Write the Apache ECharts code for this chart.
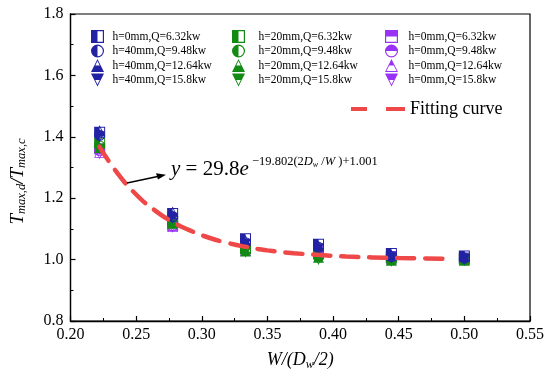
<!DOCTYPE html>
<html><head><meta charset="utf-8">
<script src="https://cdn.jsdelivr.net/npm/echarts@6/dist/echarts.min.js"></script>
<style>html,body{margin:0;padding:0;background:#fff}#c{width:550px;height:380px}</style>
</head><body><div id="c"></div>
<script>
// ---- data ----
const xVals = [0.2222, 0.2778, 0.3333, 0.3889, 0.4444, 0.5];
const xTicks = [0.20, 0.25, 0.30, 0.35, 0.40, 0.45, 0.50, 0.55];
const yTicks = [0.8, 1.0, 1.2, 1.4, 1.6, 1.8];
const namesBlue = ['h=0mm,Q=6.32kw', 'h=40mm,Q=9.48kw', 'h=40mm,Q=12.64kw', 'h=40mm,Q=15.8kw'];
const namesGreen = ['h=20mm,Q=6.32kw', 'h=20mm,Q=9.48kw', 'h=20mm,Q=12.64kw', 'h=20mm,Q=15.8kw'];
const namesPurple = ['h=0mm,Q=6.32kw\u200b', 'h=0mm,Q=9.48kw\u200b', 'h=0mm,Q=12.64kw\u200b', 'h=0mm,Q=15.8kw\u200b'];
const blue1 = [1.415, 1.150, 1.068, 1.050, 1.020, 1.012];
const blue2 = [1.405, 1.140, 1.055, 1.040, 1.010, 1.005];
const blue3 = [1.420, 1.155, 1.062, 1.045, 1.015, 1.010];
const blue4 = [1.400, 1.135, 1.050, 1.035, 1.005, 1.000];
const green1 = [1.380, 1.125, 1.035, 1.020, 1.005, 1.003];
const green2 = [1.370, 1.120, 1.030, 1.010, 1.000, 1.000];
const green3 = [1.365, 1.118, 1.028, 1.008, 0.998, 0.998];
const green4 = [1.360, 1.115, 1.025, 1.000, 0.995, 0.996];
const purple1 = [1.360, 1.112, 1.035, 1.025, 1.010, 1.005];
const purple2 = [1.355, 1.110, 1.032, 1.020, 1.005, 1.002];
const purple3 = [1.350, 1.108, 1.030, 1.018, 1.002, 1.000];
const purple4 = [1.345, 1.105, 1.028, 1.015, 1.000, 0.998];
// fitting curve
const fitX = [0.222, 0.235, 0.250, 0.265, 0.278, 0.290, 0.305, 0.320, 0.333, 0.350, 0.370, 0.390, 0.410, 0.430, 0.450, 0.470, 0.485];
const fitY = [1.368, 1.286, 1.212, 1.158, 1.122, 1.097, 1.072, 1.054, 1.042, 1.030, 1.021, 1.015, 1.010, 1.007, 1.005, 1.004, 1.003];

// ---- half-filled marker shapes ----
const SQ_LEFT = 'path://M0 0L10 0L10 10L0 10Z M5 0.9L5 9.1L9.1 9.1L9.1 0.9Z';
const SQ_TOP = 'path://M0 0L10 0L10 10L0 10Z M0.9 5L0.9 9.1L9.1 9.1L9.1 5Z';
const CI_LEFT = 'path://M5 0A5 5 0 1 1 5 10A5 5 0 1 1 5 0Z M5 0.9L5 9.1A4.1 4.1 0 0 0 5 0.9Z';
const CI_TOP = 'path://M5 0A5 5 0 1 1 5 10A5 5 0 1 1 5 0Z M9.1 5L0.9 5A4.1 4.1 0 0 0 9.1 5Z';
const TU_BOT = 'path://M0 10L5 0L10 10Z M5 1.57L3.28 5L6.72 5Z';
const TU_TOP = 'path://M0 10L5 0L10 10Z M3.28 5L1.13 9.3L8.87 9.3L6.72 5Z';
const TD_TOP = 'path://M0 0L10 0L5 10Z M3.28 5L5 8.43L6.72 5Z';
const DASH_ICON = 'path://M0 0L16 0L16 4L0 4Z M35 0L54 0L54 4L35 4Z';

const BLUE = '#2222a5', GREEN = '#138a13', PURPLE = '#9a32f5', RED = '#ef4848';

function sc(name, vals, color, symbol) {
  return {
    type: 'scatter', name: name, symbol: symbol, symbolSize: 11,
    itemStyle: { color: color, opacity: 1 },
    data: xVals.map((x, i) => [x, vals[i]])
  };
}

const series = [
  sc(namesPurple[0], purple1, PURPLE, SQ_TOP),
  sc(namesPurple[1], purple2, PURPLE, CI_TOP),
  sc(namesPurple[2], purple3, PURPLE, TU_TOP),
  sc(namesPurple[3], purple4, PURPLE, TD_TOP),
  sc(namesGreen[0], green1, GREEN, SQ_LEFT),
  sc(namesGreen[1], green2, GREEN, CI_LEFT),
  sc(namesGreen[2], green3, GREEN, TU_BOT),
  sc(namesGreen[3], green4, GREEN, TD_TOP),
  sc(namesBlue[0], blue1, BLUE, SQ_LEFT),
  sc(namesBlue[1], blue2, BLUE, CI_LEFT),
  sc(namesBlue[2], blue3, BLUE, TU_BOT),
  sc(namesBlue[3], blue4, BLUE, TD_TOP),
  {
    type: 'line', name: 'Fitting curve', smooth: true, symbol: 'none', showSymbol: false, z: 5,
    lineStyle: { color: RED, width: 4.5, type: [17, 11], cap: 'round' },
    itemStyle: { color: RED },
    data: fitX.map((x, i) => [x, fitY[i]])
  }
];

const FONT = 'Liberation Serif';
function lg(names, left, top, textPad) {
  return {
    data: names, orient: 'vertical', left: left, top: top,
    itemWidth: 14, itemHeight: 13, itemGap: 1.5, padding: 0,
    textStyle: { fontFamily: FONT, fontSize: 11.5, color: '#000', padding: [0, 0, 0, textPad] },
    formatter: n => n.replace('\u200b', ''),
    selectedMode: false
  };
}

const chart = echarts.init(document.getElementById('c'), null, { renderer: 'canvas' });
chart.setOption({
  animation: false,
  backgroundColor: '#fff',
  grid: { left: 60, right: 20, top: 14, bottom: 59, show: true, borderColor: '#000', borderWidth: 1.2, backgroundColor: 'transparent' },
  legend: [
    lg(namesBlue, 91, 30, 3),
    lg(namesGreen, 232, 30, 8),
    lg(namesPurple, 385, 30, 5),
    {
      data: [{ name: 'Fitting curve', icon: DASH_ICON }], left: 351, top: 100, padding: 0,
      itemWidth: 54, itemHeight: 4, selectedMode: false,
      textStyle: { fontFamily: FONT, fontSize: 18, color: '#000' }
    }
  ],
  xAxis: {
    type: 'value', min: xTicks[0], max: xTicks[xTicks.length - 1], interval: 0.05,
    name: '{i|W/(D}{s|w}{i|/2)}', nameLocation: 'middle', nameGap: 28,
    nameTextStyle: {
      rich: {
        i: { fontFamily: FONT, fontSize: 18, fontStyle: 'italic', color: '#000', lineHeight: 22 },
        s: { fontFamily: FONT, fontSize: 12, fontStyle: 'italic', color: '#000', verticalAlign: 'bottom', lineHeight: 12 }
      }
    },
    axisLine: { lineStyle: { color: '#000', width: 1.3 } },
    axisTick: { inside: true, length: 5, lineStyle: { color: '#000', width: 1.2 } },
    minorTick: { show: true, splitNumber: 2, length: 3, lineStyle: { color: '#000', width: 1 } },
    axisLabel: { fontFamily: FONT, fontSize: 16, color: '#000', margin: 6, formatter: v => v.toFixed(2) },
    splitLine: { show: false }
  },
  yAxis: {
    type: 'value', min: yTicks[0], max: yTicks[yTicks.length - 1], interval: 0.2,
    name: '{i|T}{s|max,d}{i|/T}{s|max,c}', nameLocation: 'middle', nameGap: 42, nameRotate: 90,
    nameTextStyle: {
      padding: [0, 0, 0, -28],
      rich: {
        i: { fontFamily: FONT, fontSize: 19, fontStyle: 'italic', color: '#000', lineHeight: 22 },
        s: { fontFamily: FONT, fontSize: 12.5, fontStyle: 'italic', color: '#000', verticalAlign: 'bottom', lineHeight: 12 }
      }
    },
    axisLine: { lineStyle: { color: '#000', width: 1.3 } },
    axisTick: { inside: true, length: 5, lineStyle: { color: '#000', width: 1.2 } },
    minorTick: { show: true, splitNumber: 2, length: 3, lineStyle: { color: '#000', width: 1 } },
    axisLabel: { fontFamily: FONT, fontSize: 16, color: '#000', margin: 7, formatter: v => v.toFixed(1) },
    splitLine: { show: false }
  },
  graphic: [
    {
      type: 'text', left: 171, top: 159, z: 100,
      style: {
        text: '{i|y} = 29.8{i|e}', fill: '#000',
        font: '21px ' + FONT,
        rich: { i: { fontFamily: FONT, fontSize: 21, fontStyle: 'italic', fill: '#000' } }
      }
    },
    {
      type: 'text', left: 252, top: 155, z: 100,
      style: {
        text: '\u221219.802(2{i|D}{s|w}{n| /}{i|W}{n| )+1.001}', fill: '#000',
        font: '12.5px ' + FONT,
        rich: {
          n: { fontFamily: FONT, fontSize: 12.5, fill: '#000', lineHeight: 14 },
          i: { fontFamily: FONT, fontSize: 12.5, fontStyle: 'italic', fill: '#000', lineHeight: 14 },
          s: { fontFamily: FONT, fontSize: 8, fontStyle: 'italic', fill: '#000', verticalAlign: 'bottom', lineHeight: 8 }
        }
      }
    },
    {
      type: 'line', z: 100,
      shape: { x1: 127, y1: 183, x2: 160, y2: 176 },
      style: { stroke: '#000', lineWidth: 1.5 }
    },
    {
      type: 'polygon', z: 100,
      shape: { points: [[166, 174.8], [156, 173.2], [158, 179.6]] },
      style: { fill: '#000' }
    }
  ],
  series: series
});
</script>
</body></html>
